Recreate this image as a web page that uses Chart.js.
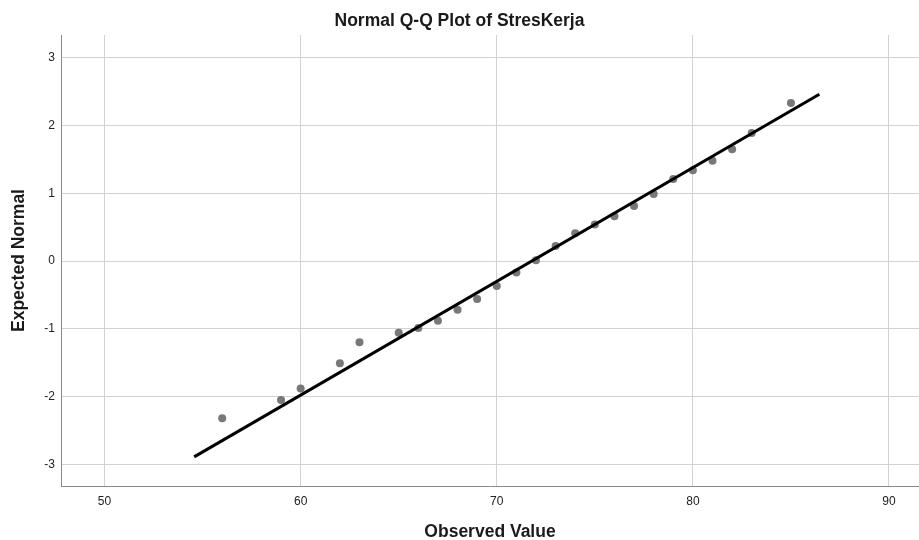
<!DOCTYPE html>
<html>
<head>
<meta charset="utf-8">
<script src="https://cdn.jsdelivr.net/npm/chart.js@4/dist/chart.umd.min.js"></script>
<style>
  html, body { margin: 0; padding: 0; background: #ffffff; }
  #wrap { width: 919px; height: 540px; }
</style>
</head>
<body>
<div id="wrap"><canvas id="c" width="919" height="540"></canvas></div>
<script>
// Observed values (x) and expected normal quantiles (y)
const observed = [56, 59, 60, 62, 63, 65, 66, 67, 68, 69, 70, 71, 72, 73, 74, 75, 76, 77, 78, 79, 80, 81, 82, 83, 85];
const expectedNormal = [-2.32, -2.05, -1.88, -1.51, -1.20, -1.06, -0.99, -0.88, -0.72, -0.56, -0.37, -0.17, 0.01, 0.22, 0.41, 0.54, 0.66, 0.81, 0.99, 1.21, 1.34, 1.48, 1.65, 1.89, 2.33];
// Reference line end points
const lineX = [54.57, 86.45];
const lineY = [-2.89, 2.46];
// Tick labels
const xTicks = [50, 60, 70, 80, 90];
const yTicks = [-3, -2, -1, 0, 1, 2, 3];

const titleText = 'Normal Q-Q Plot of StresKerja';
const xTitle = 'Observed Value';
const yTitle = 'Expected Normal';

const points = observed.map((x, i) => ({ x: x, y: expectedNormal[i] }));
const linePts = lineX.map((x, i) => ({ x: x, y: lineY[i] }));

const tickFont = { family: "'Liberation Sans', Arial, sans-serif", size: 12 };
const titleFont = { family: "'Liberation Sans', Arial, sans-serif", size: 17.5, weight: 'bold' };

new Chart(document.getElementById('c'), {
  type: 'scatter',
  data: {
    datasets: [
      {
        label: 'line',
        data: linePts,
        showLine: true,
        borderColor: '#000000',
        borderWidth: 3,
        pointRadius: 0,
        fill: false,
        order: 0
      },
      {
        label: 'points',
        data: points,
        backgroundColor: '#787878',
        borderColor: '#787878',
        borderWidth: 0,
        pointRadius: 4,
        order: 1
      }
    ]
  },
  options: {
    responsive: false,
    animation: false,
    devicePixelRatio: 1,
    layout: { autoPadding: false, padding: { left: 0, right: 0, top: 0, bottom: 0 } },
    plugins: {
      legend: { display: false },
      tooltip: { enabled: false },
      title: {
        display: true,
        text: titleText,
        color: '#1a1a1a',
        font: titleFont,
        padding: { top: 11, bottom: 3 }
      }
    },
    scales: {
      x: {
        type: 'linear',
        min: 47.78,
        max: 91.53,
        afterFit: s => { s.height = 54; s.paddingLeft = 0; s.paddingRight = 0; },
        afterBuildTicks: s => { s.ticks = xTicks.map(v => ({ value: v })); },
        grid: { color: '#d2d2d2', lineWidth: 1, drawTicks: false },
        border: { color: '#8a8a8a', width: 1 },
        ticks: { color: '#222222', font: tickFont, padding: 8, maxRotation: 0 },
        title: {
          display: true,
          text: xTitle,
          color: '#1a1a1a',
          font: Object.assign({}, titleFont, { lineHeight: 1 }),
          padding: { top: 0, bottom: -0.5 }
        }
      },
      y: {
        type: 'linear',
        min: -3.32,
        max: 3.335,
        afterFit: s => { s.width = 61; s.paddingTop = 0; s.paddingBottom = 0; },
        afterBuildTicks: s => { s.ticks = yTicks.map(v => ({ value: v })); },
        grid: { color: '#d2d2d2', lineWidth: 1, drawTicks: false },
        border: { color: '#8a8a8a', width: 1 },
        ticks: { color: '#222222', font: tickFont, padding: 6 },
        title: {
          display: true,
          text: yTitle,
          color: '#1a1a1a',
          font: titleFont,
          padding: { top: 9, bottom: 0 }
        }
      }
    }
  }
});
</script>
</body>
</html>
